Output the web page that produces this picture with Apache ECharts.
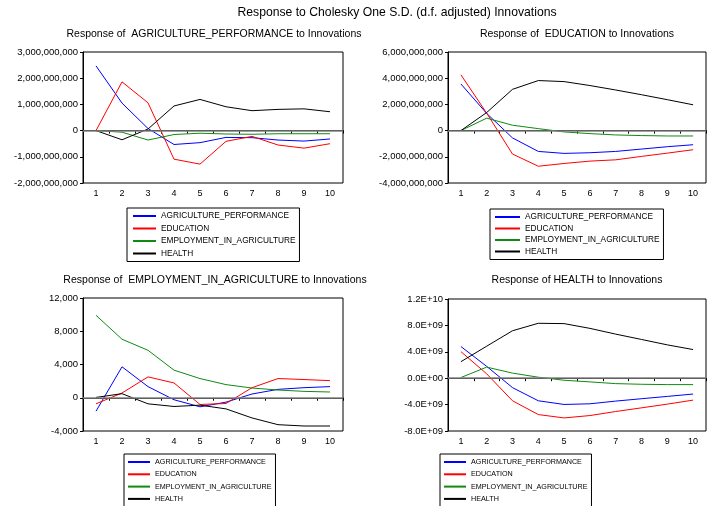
<!DOCTYPE html>
<html><head><meta charset="utf-8">
<script src="https://cdn.jsdelivr.net/npm/echarts@6/dist/echarts.min.js"></script>
<style>html,body{margin:0;padding:0;background:#fff}#c{width:713px;height:506px}</style>
</head><body><div id="c"></div>
<script>
const periods = ['1','2','3','4','5','6','7','8','9','10'];
const seriesNames = ['AGRICULTURE_PERFORMANCE','EDUCATION','EMPLOYMENT_IN_AGRICULTURE','HEALTH'];
const seriesColors = ['#0000ff','#ff0000','#108a10','#000000'];
const panelTitles = [
  'Response of  AGRICULTURE_PERFORMANCE to Innovations',
  'Response of  EDUCATION to Innovations',
  'Response of  EMPLOYMENT_IN_AGRICULTURE to Innovations',
  'Response of HEALTH to Innovations'
];
// Response of AGRICULTURE_PERFORMANCE
const agriToAgri   = [2.47e9, 1.05e9, 0.08e9, -0.53e9, -0.46e9, -0.26e9, -0.27e9, -0.36e9, -0.40e9, -0.32e9];
const agriToEdu    = [0, 1.86e9, 1.06e9, -1.09e9, -1.28e9, -0.41e9, -0.22e9, -0.55e9, -0.67e9, -0.50e9];
const agriToEmp    = [0, -0.06e9, -0.36e9, -0.15e9, -0.10e9, -0.13e9, -0.14e9, -0.12e9, -0.12e9, -0.12e9];
const agriToHealth = [0, -0.35e9, 0.06e9, 0.94e9, 1.19e9, 0.91e9, 0.76e9, 0.81e9, 0.83e9, 0.72e9];
// Response of EDUCATION
const eduToAgri    = [3.56e9, 1.31e9, -0.56e9, -1.59e9, -1.74e9, -1.69e9, -1.59e9, -1.41e9, -1.23e9, -1.08e9];
const eduToEdu     = [4.26e9, 1.33e9, -1.79e9, -2.72e9, -2.51e9, -2.33e9, -2.23e9, -1.97e9, -1.72e9, -1.46e9];
const eduToEmp     = [0, 0.95e9, 0.41e9, 0.15e9, -0.10e9, -0.23e9, -0.33e9, -0.38e9, -0.41e9, -0.41e9];
const eduToHealth  = [0, 1.38e9, 3.15e9, 3.82e9, 3.74e9, 3.44e9, 3.10e9, 2.74e9, 2.36e9, 1.97e9];
// Response of EMPLOYMENT_IN_AGRICULTURE
const empToAgri    = [-1620, 3720, 1340, -240, -1090, -530, 450, 1010, 1210, 1340];
const empToEdu     = [-730, 570, 2510, 1780, -810, -690, 1210, 2310, 2190, 2060];
const empToEmp     = [9920, 7040, 5710, 3320, 2310, 1580, 1170, 930, 770, 690];
const empToHealth  = [40, 490, -730, -1050, -890, -1340, -2430, -3240, -3400, -3400];
// Response of HEALTH
const healthToAgri   = [4.80e9, 1.79e9, -1.43e9, -3.42e9, -3.98e9, -3.88e9, -3.47e9, -3.11e9, -2.76e9, -2.40e9];
const healthToEdu    = [4.03e9, 0.66e9, -3.42e9, -5.51e9, -6.02e9, -5.66e9, -5.05e9, -4.49e9, -3.93e9, -3.32e9];
const healthToEmp    = [0.10e9, 1.68e9, 0.77e9, 0.15e9, -0.31e9, -0.56e9, -0.82e9, -0.92e9, -0.97e9, -0.97e9];
const healthToHealth = [2.50e9, 4.85e9, 7.19e9, 8.32e9, 8.27e9, 7.55e9, 6.68e9, 5.87e9, 5.05e9, 4.34e9];
// y-axis tick settings
const yMins = [-2e9, -4e9, -4000, -8e9];
const yMaxs = [3e9, 6e9, 12000, 1.2e10];
const yIntervals = [1e9, 2e9, 4000, 4e9];

const panelData = [
  [agriToAgri, agriToEdu, agriToEmp, agriToHealth],
  [eduToAgri, eduToEdu, eduToEmp, eduToHealth],
  [empToAgri, empToEdu, empToEmp, empToHealth],
  [healthToAgri, healthToEdu, healthToEmp, healthToHealth]
];

function comma(v){
  const s = Math.abs(v).toString().replace(/\B(?=(\d{3})+(?!\d))/g, ',');
  return (v < 0 ? '-' : '') + s;
}
function sci(v){
  const parts = v.toExponential(1).split('e');
  const n = parseInt(parts[1], 10);
  return parts[0] + 'E' + (n < 0 ? '-' : '+') + String(Math.abs(n)).padStart(2, '0');
}
const formatters = [comma, comma, comma, sci];

const grids = [
  {left: 83, top: 52, width: 260, height: 131},
  {left: 448, top: 52, width: 258, height: 131},
  {left: 83, top: 298, width: 260, height: 133},
  {left: 448, top: 299, width: 258, height: 132}
];
const titleCenters = [[209, 24], [572, 24], [210, 270], [572, 270]];
const legendPos = [
  {left: 127, top: 208, fs: 8.3, iw: 23, pl: 6, gap: 2.5},
  {left: 490, top: 209, fs: 8.3, iw: 25, pl: 5, gap: 1.5},
  {left: 124, top: 454, fs: 7.2, iw: 22, pl: 4, gap: 2.3},
  {left: 440, top: 454, fs: 7.2, iw: 22, pl: 4, gap: 2.3}
];

const FONT = '"Liberation Sans", Arial, sans-serif';
const option = {
  animation: false,
  backgroundColor: '#fff',
  color: seriesColors,
  title: [{
    text: 'Response to Cholesky One S.D. (d.f. adjusted) Innovations',
    left: 392, top: 2, textAlign: 'center',
    textStyle: {fontFamily: FONT, fontSize: 12.2, fontWeight: 'normal', color: '#000'}
  }].concat(panelTitles.map((t, i) => ({
    text: t, left: titleCenters[i][0], top: titleCenters[i][1], textAlign: 'center',
    textStyle: {fontFamily: FONT, fontSize: 10.5, fontWeight: 'normal', color: '#000'}
  }))),
  grid: grids.map(g => Object.assign({show: true, borderColor: '#000', borderWidth: 1, backgroundColor: '#fff'}, g)),
  xAxis: grids.map((g, i) => ({
    type: 'category', gridIndex: i, data: periods, boundaryGap: true,
    axisLine: {lineStyle: {color: '#000'}},
    axisTick: {show: true, length: 3, alignWithLabel: false, lineStyle: {color: '#000'}},
    axisLabel: {fontFamily: FONT, fontSize: 9, color: '#000', margin: 6},
    splitLine: {show: false}
  })),
  yAxis: grids.map((g, i) => ({
    type: 'value', gridIndex: i, min: yMins[i], max: yMaxs[i], interval: yIntervals[i],
    axisLine: {show: true, lineStyle: {color: '#000'}},
    axisTick: {show: true, length: 3, lineStyle: {color: '#000'}},
    axisLabel: {fontFamily: FONT, fontSize: 9.5, color: '#000', margin: 5, formatter: formatters[i]},
    splitLine: {show: false}
  })),
  legend: legendPos.map(p => ({
    data: seriesNames.map((n, k) => ({name: n, icon: 'rect', itemStyle: {color: seriesColors[k], borderWidth: 0, opacity: 1}})),
    orient: 'vertical', left: p.left, top: p.top, height: 80,
    itemWidth: p.iw, itemHeight: 2, itemGap: p.gap,
    padding: [3, 4, 3, p.pl], borderColor: '#000', borderWidth: 1,
    selectedMode: false,
    textStyle: {fontFamily: FONT, fontSize: p.fs, color: '#000', lineHeight: 10}
  })),
  series: []
};
panelData.forEach((arrs, gi) => {
  arrs.forEach((vals, si) => {
    const s = {
      type: 'line', name: seriesNames[si], xAxisIndex: gi, yAxisIndex: gi,
      data: vals, symbol: 'none', lineStyle: {width: 1, color: seriesColors[si]},
      itemStyle: {color: seriesColors[si]}
    };
    if (si === 0) {
      s.markLine = {silent: true, symbol: 'none', label: {show: false},
        lineStyle: {color: '#808080', width: 1.5, type: 'solid'}, data: [{yAxis: 0}]};
    }
    option.series.push(s);
  });
});
const chart = echarts.init(document.getElementById('c'), null, {renderer: 'canvas'});
chart.setOption(option);
</script>
</body></html>
